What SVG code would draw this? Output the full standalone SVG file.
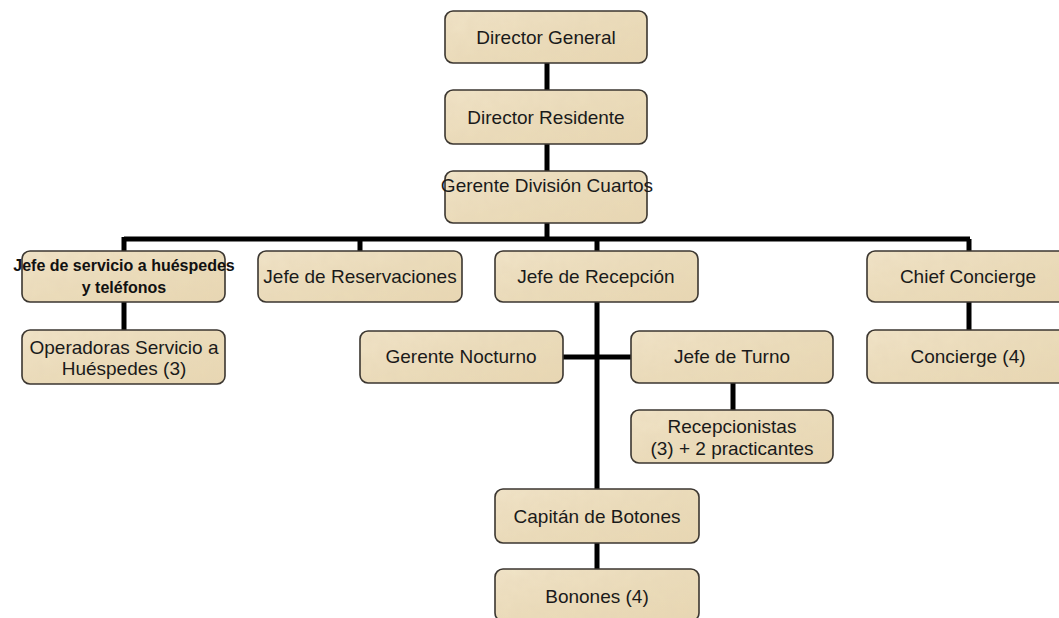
<svg xmlns="http://www.w3.org/2000/svg" width="1059" height="618" viewBox="0 0 1059 618">
<style>
.bg{fill:url(#pg);filter:url(#parch)}
.bd{fill:none;stroke:#3b3630;stroke-width:1.6}
.t{font-family:"Liberation Sans",Arial,sans-serif;font-size:19px;fill:#1a1a1a;text-anchor:middle}
.tb{font-family:"Liberation Sans",Arial,sans-serif;font-size:16px;font-weight:bold;fill:#111;text-anchor:middle}
.c{stroke:#000;stroke-width:5;fill:none}
</style>
<defs>
<linearGradient id="pg" x1="0" y1="0" x2="1" y2="1">
<stop offset="0" stop-color="#F1E4C8"/>
<stop offset="0.5" stop-color="#EBDCBA"/>
<stop offset="1" stop-color="#E8D7B2"/>
</linearGradient>
<filter id="parch" x="0" y="0" width="1" height="1">
<feTurbulence type="fractalNoise" baseFrequency="0.09" numOctaves="3" seed="4" result="n"/>
<feColorMatrix in="n" type="matrix" values="0 0 0 0 0.78  0 0 0 0 0.66  0 0 0 0 0.47  0 0 0 0.45 -0.05" result="c"/>
<feComposite in="c" in2="SourceGraphic" operator="in" result="t"/>
<feMerge><feMergeNode in="SourceGraphic"/><feMergeNode in="t"/></feMerge>
</filter>
</defs>
<rect width="1059" height="618" fill="#fff"/>
<g id="connectors">
<path class="c" d="M547 63V90M547 144V171M547 223V239"/>
<path class="c" d="M124 239H970M124 237V251M360 239V251M597 239V251M969 239V251"/>
<path class="c" d="M124 302V330M969 302V330"/>
<path class="c" d="M597 302V489M563 357H631M733 383V410M597 543V569"/>
</g>
<g id="n1"><rect class="bg" x="445" y="11" width="202" height="52" rx="8"/><rect class="bd" x="445" y="11" width="202" height="52" rx="8"/><text class="t" x="546" y="44">Director General</text></g>
<g id="n2"><rect class="bg" x="445" y="90" width="202" height="54" rx="8"/><rect class="bd" x="445" y="90" width="202" height="54" rx="8"/><text class="t" x="546" y="124">Director Residente</text></g>
<g id="n3"><rect class="bg" x="445" y="171" width="202" height="52" rx="8"/><rect class="bd" x="445" y="171" width="202" height="52" rx="8"/><text class="t" x="547" y="192">Gerente División Cuartos</text></g>
<g id="n4"><rect class="bg" x="22" y="251" width="203" height="51" rx="8"/><rect class="bd" x="22" y="251" width="203" height="51" rx="8"/><text class="tb" x="124" y="271">Jefe de servicio a huéspedes</text><text class="tb" x="124" y="293">y teléfonos</text></g>
<g id="n5"><rect class="bg" x="258" y="251" width="204" height="51" rx="8"/><rect class="bd" x="258" y="251" width="204" height="51" rx="8"/><text class="t" x="360" y="283">Jefe de Reservaciones</text></g>
<g id="n6"><rect class="bg" x="495" y="251" width="203" height="51" rx="8"/><rect class="bd" x="495" y="251" width="203" height="51" rx="8"/><text class="t" x="596" y="283">Jefe de Recepción</text></g>
<g id="n7"><rect class="bg" x="867" y="251" width="204" height="51" rx="8"/><rect class="bd" x="867" y="251" width="204" height="51" rx="8"/><text class="t" x="968" y="283">Chief Concierge</text></g>
<g id="n8"><rect class="bg" x="22" y="330" width="203" height="54" rx="8"/><rect class="bd" x="22" y="330" width="203" height="54" rx="8"/><text class="t" x="124" y="354">Operadoras Servicio a</text><text class="t" x="124" y="375">Huéspedes (3)</text></g>
<g id="n9"><rect class="bg" x="867" y="330" width="204" height="53" rx="8"/><rect class="bd" x="867" y="330" width="204" height="53" rx="8"/><text class="t" x="968" y="363">Concierge (4)</text></g>
<g id="n10"><rect class="bg" x="360" y="331" width="203" height="52" rx="8"/><rect class="bd" x="360" y="331" width="203" height="52" rx="8"/><text class="t" x="461" y="363">Gerente Nocturno</text></g>
<g id="n11"><rect class="bg" x="631" y="331" width="202" height="52" rx="8"/><rect class="bd" x="631" y="331" width="202" height="52" rx="8"/><text class="t" x="732" y="363">Jefe de Turno</text></g>
<g id="n12"><rect class="bg" x="631" y="410" width="202" height="53" rx="8"/><rect class="bd" x="631" y="410" width="202" height="53" rx="8"/><text class="t" x="732" y="433">Recepcionistas</text><text class="t" x="732" y="455">(3) + 2 practicantes</text></g>
<g id="n13"><rect class="bg" x="495" y="489" width="204" height="54" rx="8"/><rect class="bd" x="495" y="489" width="204" height="54" rx="8"/><text class="t" x="597" y="523">Capitán de Botones</text></g>
<g id="n14"><rect class="bg" x="495" y="569" width="204" height="52" rx="8"/><rect class="bd" x="495" y="569" width="204" height="52" rx="8"/><text class="t" x="597" y="603">Bonones (4)</text></g>
</svg>
